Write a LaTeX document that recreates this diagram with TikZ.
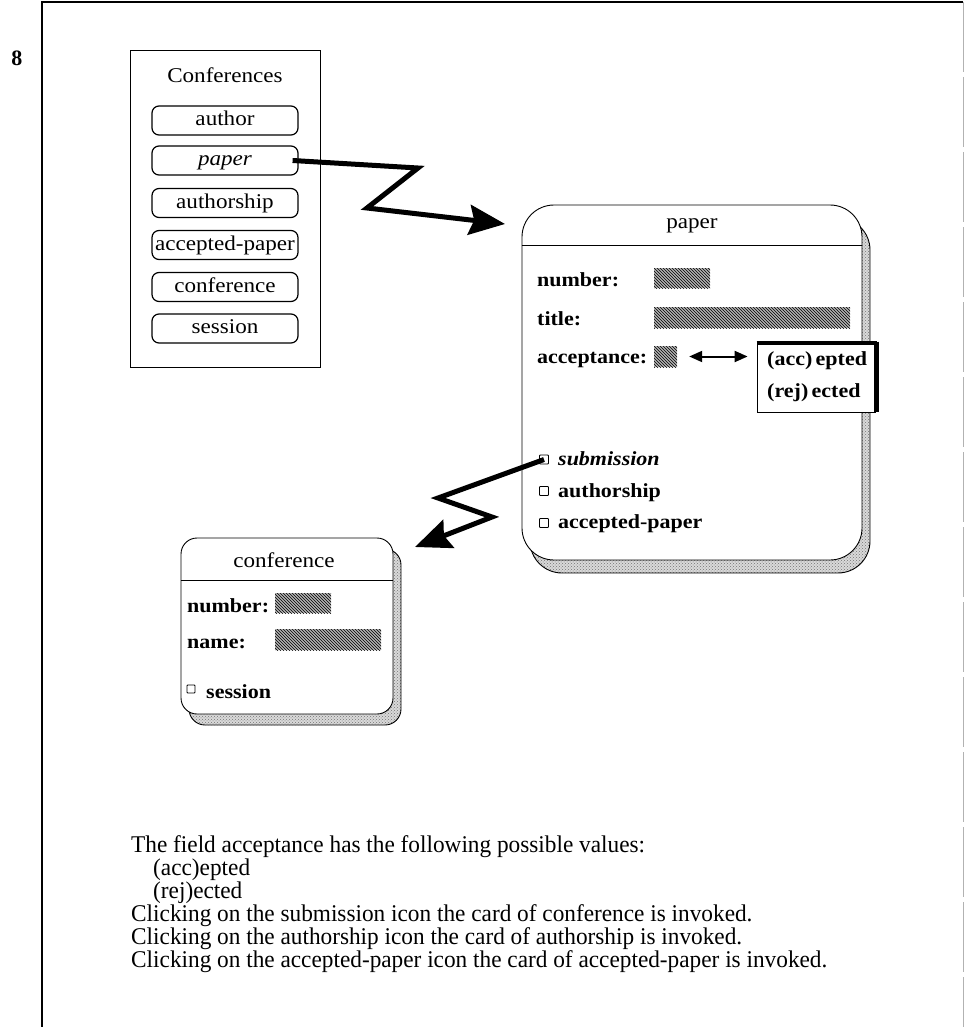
\documentclass[tikz,border=0pt]{standalone}
\usepackage{fontspec}
\setmainfont{Liberation Serif}
\newfontfamily\cardfont[FakeStretch=1.1]{Liberation Serif}
\newfontfamily\bodyfont[FakeStretch=0.97]{Liberation Serif}
\usetikzlibrary{arrows.meta,patterns,calc}

\begin{document}
\begin{tikzpicture}[x=1pt,y=-1pt,
  itembox/.style={draw, line width=1.2pt, rounded corners=7pt,
    minimum width=146pt, minimum height=29pt, inner sep=0pt,
    text height=14pt, text depth=4pt, font=\cardfont\fontsize{21}{22}\selectfont},
  label/.style={anchor=base west, inner sep=0pt, font=\cardfont\fontsize{20}{22}\selectfont\bfseries},
  title/.style={anchor=base, inner sep=0pt, font=\cardfont\fontsize{21}{22}\selectfont},
  card/.style={draw, line width=0.9pt, fill=white, inner sep=0pt},
  cardshadow/.style={draw, line width=0.9pt, inner sep=0pt,
    preaction={fill=gray!30}, pattern=crosshatch dots, pattern color=gray!90!black},
  hatch/.style={preaction={fill=gray!60}, pattern=north west lines},
  icon/.style={draw, line width=0.8pt, rounded corners=0.8pt, inner sep=0pt,
    minimum width=9pt, minimum height=9pt},
  jump/.style={line width=5pt, miter limit=10,
    -{Stealth[length=36pt,width=30pt,inset=5pt]}},
  body/.style={anchor=base west, inner sep=0pt, font=\bodyfont\fontsize{24}{23}\selectfont}
]
\useasboundingbox (0,0) rectangle (965,1027);

% page frame and page number
\draw[line width=1.2pt] (42,1027) -- (42,2) -- (963,2);
\draw[gray!60, line width=0.8pt, dash pattern=on 70pt off 5pt] (963,2) -- (963,1027);
\node[font=\fontsize{22}{24}\selectfont\bfseries, inner sep=0pt] (pnum) at (17,58) {8};

% list of entity cards
\node[draw, line width=0.7pt, minimum width=190pt, minimum height=317pt, inner sep=0pt] (conf) at (225,208.5) {};
\node[title] (conftitle) at (225,83) {Conferences};
\node[itembox] (iauthor) at (225,120.5) {author};
\node[itembox] (ipaper) at (225,160.5) {\itshape paper};
\node[itembox] (iauthorship) at (225,203) {authorship};
\node[itembox] (iaccepted) at (225,245) {accepted-paper};
\node[itembox] (iconference) at (225,287) {conference};
\node[itembox] (isession) at (225,328.5) {session};

% card: paper
\node[cardshadow, rounded corners=32pt, minimum width=340pt, minimum height=355pt] (pshadow) at (700,395.5) {};
\node[card, rounded corners=32pt, minimum width=340pt, minimum height=355pt] (pcard) at (692,382.5) {};
\draw[line width=0.9pt] (pcard.west |- 0,245) -- (pcard.east |- 0,245);
\node[title] (ptitle) at (692,228) {paper};
\node[label] (pnumber) at (537,286) {number:};
\node[label] (ptitlef) at (537,325) {title:};
\node[label] (pacc) at (537,363) {acceptance:};
\path[hatch] (654,268) rectangle (710,288);
\path[hatch] (654,307) rectangle (850,328);
\node[hatch, inner sep=0pt, minimum width=23pt, minimum height=21pt] (acch) at (665.5,356.5) {};

% value list of acceptance
\node[draw, fill=white, line width=0.8pt, minimum width=118pt, minimum height=70pt, inner sep=0pt] (popup) at (816,377) {};
\draw[line width=3.5pt] (popup.north west) ++(0,1.5) -- ($(popup.north east)+(2,1.5)$);
\draw[line width=5pt] ($(popup.north east)+(1.5,0)$) -- ($(popup.south east)+(1.5,0)$);
\node[label] (vacc) at (767,365) {(acc)\,epted};
\node[label] (vrej) at (767,397) {(rej)\,ected};
\draw[line width=2pt, {Triangle[length=13pt,width=11pt]}-{Triangle[length=13pt,width=11pt]}]
  ($(acch.east)+(12,0)$) -- ($(popup.west |- acch.east)+(-9,0)$);

% links of paper
\node[icon] (isub) at (544,459.5) {};
\node[label, font=\cardfont\fontsize{20}{22}\selectfont\bfseries\itshape] (lsub) at (558,465) {submission};
\node[icon] (iauth) at (544,491) {};
\node[label] (lauth) at (558,497) {authorship};
\node[icon] (iacc) at (544,523) {};
\node[label] (lacc) at (558,528) {accepted-paper};

% card: conference
\node[cardshadow, rounded corners=16pt, minimum width=212pt, minimum height=176pt] (cshadow) at (295,637) {};
\node[card, rounded corners=16pt, minimum width=212pt, minimum height=176pt] (ccard) at (287,626) {};
\draw[line width=0.9pt] (ccard.west |- 0,580) -- (ccard.east |- 0,580);
\node[title] (ctitle) at (284,567) {conference};
\node[label] (cnumber) at (187,612) {number:};
\node[label] (cname) at (187,648) {name:};
\path[hatch] (275,593) rectangle (331,613);
\path[hatch] (275,629) rectangle (381,650);
\node[icon, minimum width=8pt, minimum height=8pt] (isess) at (191,689) {};
\node[label] (lsess) at (206,698) {session};

% navigation links
\coordinate (a1) at (418,168);
\coordinate (a2) at (367,208);
\coordinate (a3) at (505,224);
\draw[jump] ([xshift=-6pt]ipaper.east) -- (a1) -- (a2) -- (a3);
\coordinate (b1) at (438,498);
\coordinate (b2) at (492,517);
\coordinate (b3) at (415,547);
\draw[jump] (isub.center) -- (b1) -- (b2) -- (b3);

% explanation
\node[body] (t1) at (131,852) {The field acceptance has the following possible values:};
\node[body] (t2) at (153,875) {(acc)epted};
\node[body] (t3) at (153,898) {(rej)ected};
\node[body] (t4) at (131,921) {Clicking on the submission icon the card of conference is invoked.};
\node[body] (t5) at (131,944) {Clicking on the authorship icon the card of authorship is invoked.};
\node[body] (t6) at (131,967) {Clicking on the accepted-paper icon the card of accepted-paper is invoked.};
\end{tikzpicture}
\end{document}
